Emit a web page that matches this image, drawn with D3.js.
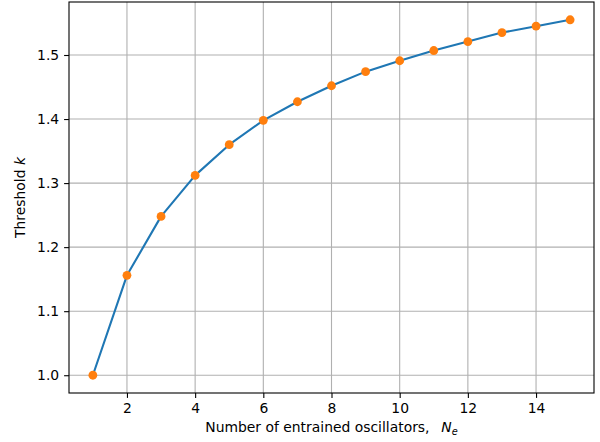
<!DOCTYPE html>
<html>
<head>
<meta charset="utf-8">
<script src="https://cdn.jsdelivr.net/npm/d3@7"></script>
<style>
  body { margin: 0; background: #fff; }
  svg { display: block; font-family: "DejaVu Sans", sans-serif; }
</style>
</head>
<body>
<svg id="chart" width="600" height="442"></svg>
<script>
// threshold coupling vs number of entrained oscillators
const nEntrained = [1, 2, 3, 4, 5, 6, 7, 8, 9, 10, 11, 12, 13, 14, 15];
const threshold = [1.000, 1.156, 1.248, 1.312, 1.360, 1.398, 1.427, 1.452, 1.474, 1.491, 1.507, 1.521, 1.535, 1.545, 1.555];
const xTicks = [2, 4, 6, 8, 10, 12, 14];
const yTicks = [1.0, 1.1, 1.2, 1.3, 1.4, 1.5];

const WIDTH = 600;
const HEIGHT = 442;
const margin = { left: 69, right: 6, top: 2, bottom: 49 };
const FONT = 13.9;

const svg = d3.select("#chart");

const x = d3.scaleLinear()
  .domain([0.3, 15.7])
  .range([margin.left, WIDTH - margin.right]);
const y = d3.scaleLinear()
  .domain([0.97225, 1.58275])
  .range([HEIGHT - margin.bottom, margin.top]);

// grid
const grid = svg.append("g");
grid.selectAll(".gx").data(xTicks).enter().append("line")
  .attr("x1", d => x(d)).attr("x2", d => x(d))
  .attr("y1", y.range()[0]).attr("y2", y.range()[1])
  .style("stroke", "#b0b0b0").style("stroke-width", 1.1);
grid.selectAll(".gy").data(yTicks).enter().append("line")
  .attr("y1", d => y(d)).attr("y2", d => y(d))
  .attr("x1", x.range()[0]).attr("x2", x.range()[1])
  .style("stroke", "#b0b0b0").style("stroke-width", 1.1);

// line + markers
const line = d3.line()
  .x((d, i) => x(nEntrained[i]))
  .y(d => y(d));
svg.append("path")
  .datum(threshold)
  .attr("d", line)
  .style("fill", "none")
  .style("stroke", "#1f77b4")
  .style("stroke-width", 2.1)
  .style("stroke-linejoin", "round");
svg.selectAll(".dot").data(threshold).enter().append("circle")
  .attr("cx", (d, i) => x(nEntrained[i]))
  .attr("cy", d => y(d))
  .attr("r", 4.4)
  .style("fill", "#ff7f0e");

// axes
const xAxis = svg.append("g")
  .attr("transform", `translate(0,${y.range()[0]})`)
  .call(d3.axisBottom(x).tickValues(xTicks).tickSize(4.9).tickPadding(4.9));
const yAxis = svg.append("g")
  .attr("transform", `translate(${x.range()[0]},0)`)
  .call(d3.axisLeft(y).tickValues(yTicks).tickSize(4.9).tickPadding(4.9).tickFormat(d3.format(".1f")));
[xAxis, yAxis].forEach(a => {
  a.selectAll("text").style("font-size", `${FONT}px`).style("font-family", "DejaVu Sans").style("fill", "#000");
  a.selectAll("line").style("stroke", "#000").style("stroke-width", 1.1);
  a.select(".domain").remove();
});

// frame
svg.append("rect")
  .attr("x", x.range()[0]).attr("y", y.range()[1])
  .attr("width", x.range()[1] - x.range()[0])
  .attr("height", y.range()[0] - y.range()[1])
  .style("fill", "none").style("stroke", "#000").style("stroke-width", 1.1);

// labels
const xl = svg.append("text")
  .attr("y", 432)
  .attr("text-anchor", "start")
  .style("font-size", `${FONT}px`);
xl.append("tspan").text("Number of entrained oscillators,\u00a0\u00a0");
xl.append("tspan").text("N").style("font-style", "italic").attr("dx", 3);
xl.append("tspan").text("e").style("font-style", "italic")
  .attr("dy", 3).style("font-size", `${FONT * 0.7}px`);
const xlw = xl.node().getBBox().width;
xl.attr("x", (x.range()[0] + x.range()[1]) / 2 - xlw / 2);

const yl = svg.append("text")
  .attr("transform", `translate(25,${(y.range()[0] + y.range()[1]) / 2}) rotate(-90)`)
  .attr("text-anchor", "middle")
  .style("font-size", `${FONT}px`);
yl.append("tspan").text("Threshold ");
yl.append("tspan").text("k").style("font-style", "italic");
</script>
</body>
</html>
